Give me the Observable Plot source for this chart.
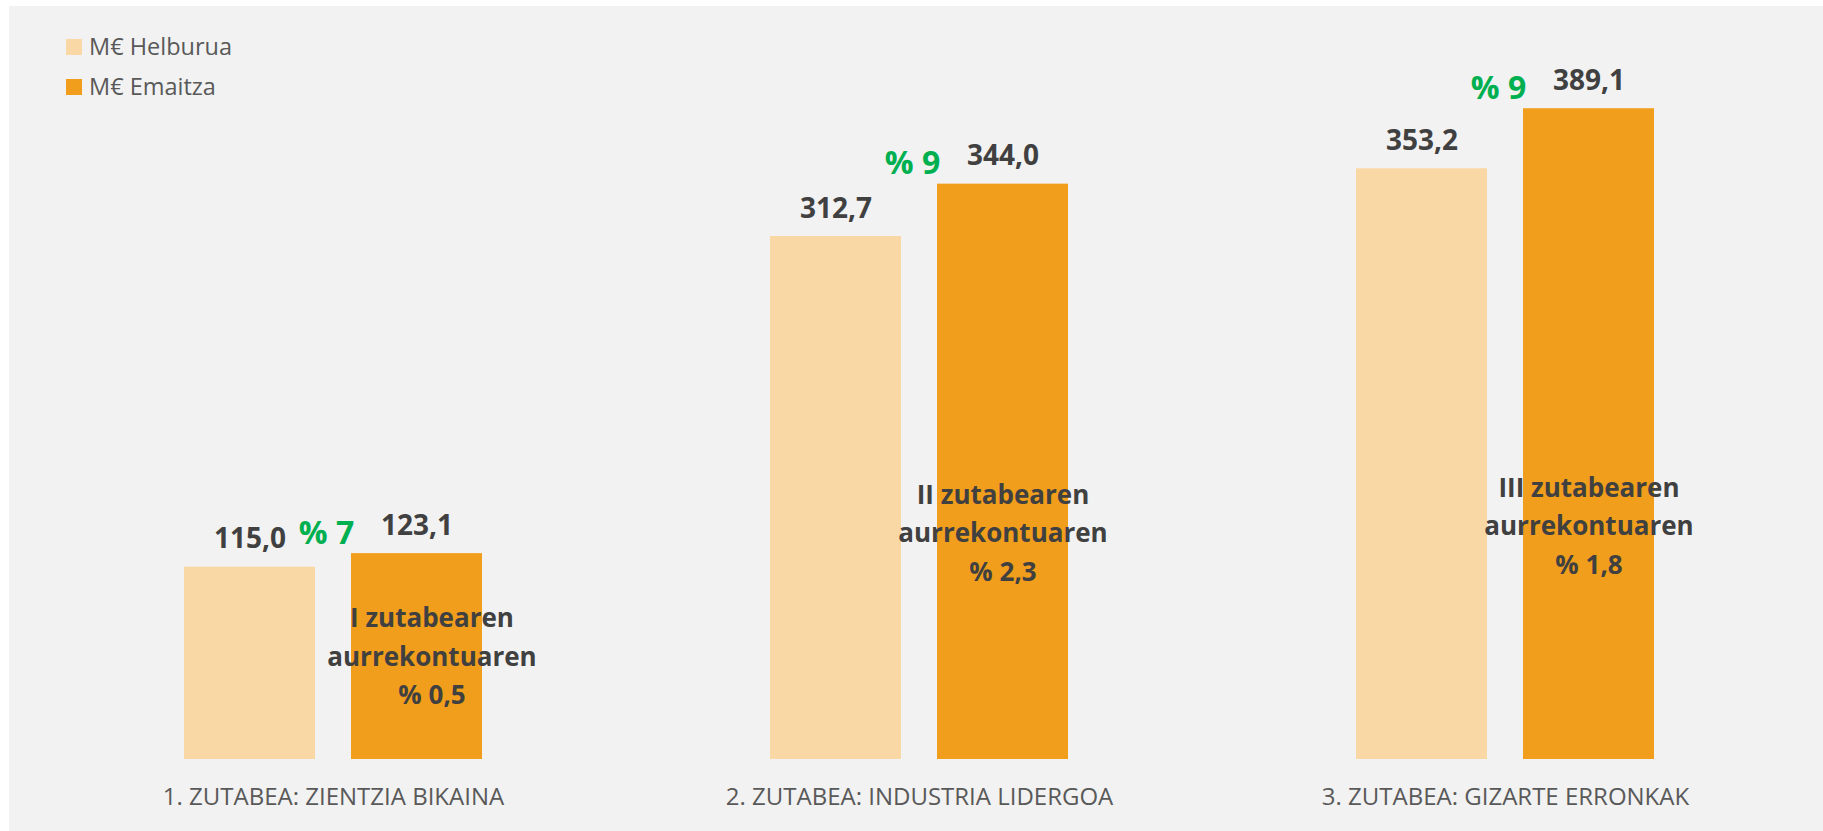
<!DOCTYPE html>
<html>
<head>
<meta charset="utf-8">
<script src="https://cdn.jsdelivr.net/npm/d3@7"></script>
<script src="https://cdn.jsdelivr.net/npm/@observablehq/plot@0.6"></script>
<style>
  html, body { margin: 0; padding: 0; background: #ffffff; }
  #wrap { position: relative; width: 1823px; height: 831px; overflow: hidden; font-family: "Open Sans", sans-serif; }
  #bg { position: absolute; left: 9px; top: 6px; right: 0; bottom: 0; background: #F2F2F2; }
  #chart { position: absolute; left: 0; top: 0; }
  .lg-sw { position: absolute; width: 16px; height: 16px; }
  .lg-tx { position: absolute; font-size: 23.5px; line-height: 24px; color: #595959; white-space: nowrap; }
</style>
</head>
<body>
<div id="wrap">
  <div id="bg"></div>
  <div id="chart"></div>
  <div id="legend"></div>
</div>
<script>
// ---- data ----
const categories = ["1. ZUTABEA: ZIENTZIA BIKAINA", "2. ZUTABEA: INDUSTRIA LIDERGOA", "3. ZUTABEA: GIZARTE ERRONKAK"];
const series = ["M€ Helburua", "M€ Emaitza"];
const helburua = [115.0, 312.7, 353.2];
const emaitza = [123.1, 344.0, 389.1];
const pctGap = [7, 9, 9];
const noteRoman = ["I", "II", "III"];
const noteShare = ["0,5", "2,3", "1,8"];
const noteAt = [33, 107, 111];
const colors = ["#F9D8A5", "#F19E1C"];

// ---- derived tables ----
const rows = [];
categories.forEach((c, i) => {
  rows.push({cat: c, series: series[0], value: helburua[i]});
  rows.push({cat: c, series: series[1], value: emaitza[i]});
});
const fmt = v => d3.format(".1f")(v).replace(".", ",");
const gaps = categories.map((c, i) => ({cat: c, y: emaitza[i], text: "% " + pctGap[i]}));
const notes = categories.map((c, i) => ({
  cat: c, series: series[1], y: noteAt[i],
  text: `${noteRoman[i]} zutabearen\naurrekontuaren\n% ${noteShare[i]}`
}));

const dark = "#404040";
const chart = Plot.plot({
  width: 1823,
  height: 831,
  marginLeft: 40,
  marginRight: 25,
  marginTop: 90,
  marginBottom: 72,
  style: {background: "transparent", fontFamily: "Open Sans, sans-serif", overflow: "visible"},
  fx: {domain: categories, padding: 0, axis: null, label: null},
  x: {domain: series, paddingInner: 0.2156, paddingOuter: 0.862, axis: null, label: null},
  y: {domain: [0, 400], axis: null, label: null},
  color: {domain: series, range: colors},
  marks: [
    Plot.barY(rows, {fx: "cat", x: "series", y: "value", fill: "series"}),
    Plot.text(rows, {fx: "cat", x: "series", y: "value", text: d => fmt(d.value),
      dy: -19, lineAnchor: "bottom", fontSize: 28, fontWeight: "bold", fill: dark}),
    Plot.text(gaps, {fx: "cat", y: "y", text: "text", dx: -7, dy: -10, lineAnchor: "bottom",
      fontSize: 32, fontWeight: "bold", fill: "#00B050"}),
    Plot.text(notes.filter((d, i) => i === 0), {fx: "cat", x: "series", y: "y", text: "text", dx: 15,
      lineAnchor: "bottom", lineHeight: 1.48, fontSize: 26, fontWeight: "bold", fill: dark}),
    Plot.text(notes.filter((d, i) => i > 0), {fx: "cat", x: "series", y: "y", text: "text",
      lineAnchor: "bottom", lineHeight: 1.48, fontSize: 26, fontWeight: "bold", fill: dark}),
    Plot.text(categories, {fx: d => d, text: d => d, frameAnchor: "bottom", dy: 45, lineAnchor: "bottom",
      fontSize: 24, fill: "#595959"})
  ]
});
document.getElementById("chart").appendChild(chart);

// ---- legend ----
const lg = document.getElementById("legend");
series.forEach((s, i) => {
  const sw = document.createElement("div");
  sw.className = "lg-sw";
  sw.style.left = "66px";
  sw.style.top = (39 + i * 40) + "px";
  sw.style.background = colors[i];
  lg.appendChild(sw);
  const tx = document.createElement("div");
  tx.className = "lg-tx";
  tx.style.left = "89px";
  tx.style.top = (34 + i * 40) + "px";
  tx.textContent = s;
  lg.appendChild(tx);
});
</script>
</body>
</html>
